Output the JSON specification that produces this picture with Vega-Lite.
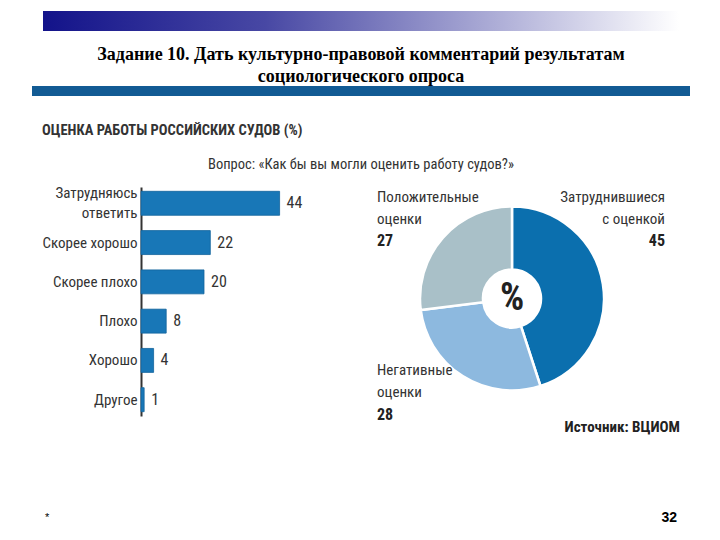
{
  "$schema": "https://vega.github.io/schema/vega-lite/v6.json",
  "background": "white",
  "padding": {"left": 32, "top": 11, "right": 0, "bottom": 0},
  "config": {"view": {"stroke": null}},
  "spacing": 0,
  "vconcat": [
    {
      "spacing": 10,
      "hconcat": [
        {"width": 1, "height": 20, "data": {"values": [{}]}, "mark": {"type": "text", "text": ""}, "encoding": {}},
        {
          "width": 636, "height": 20,
          "data": {"values": [{}]},
          "mark": {"type": "rect", "color": {"gradient": "linear", "x1": 0, "y1": 0, "x2": 1, "y2": 0, "stops": [{"offset": 0, "color": "#13138a"}, {"offset": 0.35, "color": "#4848a4"}, {"offset": 0.75, "color": "#b8b8dc"}, {"offset": 1, "color": "#ffffff"}]}},
          "encoding": {}
        }
      ]
    },
    {
      "width": 658, "height": 51,
      "data": {"values": [{}]},
      "mark": {"type": "text", "text": ["Задание 10. Дать культурно-правовой комментарий результатам", "социологического опроса"], "font": "Liberation Serif", "fontWeight": "bold", "fontSize": 18, "lineHeight": 22, "align": "center", "baseline": "middle", "dy": -1.5, "color": "#000000"},
      "encoding": {}
    },
    {
      "width": 658, "height": 10,
      "data": {"values": [{}]},
      "mark": {"type": "rect", "color": "#125b94"},
      "encoding": {}
    },
    {
      "width": 10, "height": 26,
      "data": {"values": [{}]},
      "mark": {"type": "text", "text": ""},
      "encoding": {}
    },
    {
      "spacing": 9,
      "hconcat": [
        {"width": 1, "height": 20, "data": {"values": [{}]}, "mark": {"type": "text", "text": ""}, "encoding": {}},
        {
          "title": {"text": "ОЦЕНКА РАБОТЫ РОССИЙСКИХ СУДОВ (%)", "anchor": "start", "font": "Liberation Sans Narrow, Roboto Condensed, DejaVu Sans Condensed, sans-serif", "fontSize": 14.5, "fontWeight": "bold", "color": "#333333", "offset": 19},
          "vconcat": [
            {
              "title": {"text": "Вопрос: «Как бы вы могли оценить работу судов?»", "anchor": "middle", "font": "Liberation Sans Narrow, Roboto Condensed, DejaVu Sans Condensed, sans-serif", "fontSize": 14.5, "fontWeight": "normal", "color": "#333333", "offset": 13},
              "spacing": 29,
              "hconcat": [
                {
                  "width": 189, "height": 229,
                  "data": {"values": [
                    {"ответ": "Затрудняюсь ответить", "процент": 44},
                    {"ответ": "Скорее хорошо", "процент": 22},
                    {"ответ": "Скорее плохо", "процент": 20},
                    {"ответ": "Плохо", "процент": 8},
                    {"ответ": "Хорошо", "процент": 4},
                    {"ответ": "Другое", "процент": 1}
                  ]},
                  "encoding": {
                    "y": {"field": "ответ", "type": "nominal", "sort": null, "scale": {"paddingInner": 0.39, "paddingOuter": 0.11},
                      "axis": {"title": null, "ticks": false, "grid": false, "domainColor": "#333333", "domainWidth": 2, "labelFont": "Liberation Sans Narrow, Roboto Condensed, DejaVu Sans Condensed, sans-serif", "labelFontSize": 15, "labelColor": "#333333", "labelPadding": 4, "labelLimit": 0, "labelLineHeight": 20,
                        "labelOffset": {"condition": {"test": "length(datum.label) > 15", "value": -10}, "value": 0},
                        "labelExpr": "length(datum.label) > 15 ? split(datum.label, ' ') : datum.label"}},
                    "x": {"field": "процент", "type": "quantitative", "scale": {"domain": [0, 60]}, "axis": null}
                  },
                  "layer": [
                    {"mark": {"type": "bar", "color": "#1877b7", "stroke": "#11639c", "strokeWidth": 0.8}},
                    {"mark": {"type": "text", "align": "left", "baseline": "middle", "dx": 7, "font": "Liberation Sans Narrow, Roboto Condensed, DejaVu Sans Condensed, sans-serif", "fontSize": 16, "color": "#333333"},
                     "encoding": {"text": {"field": "процент", "type": "quantitative"}}}
                  ]
                },
                {
                  "width": 306, "height": 223,
                  "data": {"values": [
                    {"оценка": "Затруднившиеся\nс оценкой", "процент": 45},
                    {"оценка": "Негативные\nоценки", "процент": 28},
                    {"оценка": "Положительные\nоценки", "процент": 27}
                  ]},
                  "layer": [
                    {
                      "mark": {"type": "arc", "outerRadius": 92, "innerRadius": 29, "stroke": "#ffffff", "strokeWidth": 2.5},
                      "encoding": {
                        "theta": {"field": "процент", "type": "quantitative", "stack": true},
                        "order": {"field": "процент", "sort": "descending"},
                        "color": {"field": "оценка", "type": "nominal", "scale": {"domain": ["Затруднившиеся\nс оценкой", "Негативные\nоценки", "Положительные\nоценки"], "range": ["#0b6fae", "#8db9df", "#a9c0c8"]}, "legend": null}
                      }
                    },
                    {
                      "transform": [{"filter": "indexof(datum['оценка'], 'Затруднившиеся') == 0"}],
                      "layer": [
                        {"mark": {"type": "text", "dx": 153, "dy": -102, "align": "right", "baseline": "middle", "lineBreak": "\n", "lineHeight": 22, "font": "Liberation Sans Narrow, Roboto Condensed, DejaVu Sans Condensed, sans-serif", "fontSize": 15, "color": "#333333"},
                         "encoding": {"text": {"field": "оценка", "type": "nominal"}}},
                        {"mark": {"type": "text", "dx": 153, "dy": -58, "align": "right", "baseline": "middle", "font": "Liberation Sans Narrow, Roboto Condensed, DejaVu Sans Condensed, sans-serif", "fontSize": 16, "fontWeight": "bold", "color": "#222222"},
                         "encoding": {"text": {"field": "процент", "type": "quantitative"}}}
                      ]
                    },
                    {
                      "transform": [{"filter": "indexof(datum['оценка'], 'Положительные') == 0"}],
                      "layer": [
                        {"mark": {"type": "text", "dx": -135, "dy": -102, "align": "left", "baseline": "middle", "lineBreak": "\n", "lineHeight": 22, "font": "Liberation Sans Narrow, Roboto Condensed, DejaVu Sans Condensed, sans-serif", "fontSize": 15, "color": "#333333"},
                         "encoding": {"text": {"field": "оценка", "type": "nominal"}}},
                        {"mark": {"type": "text", "dx": -135, "dy": -58, "align": "left", "baseline": "middle", "font": "Liberation Sans Narrow, Roboto Condensed, DejaVu Sans Condensed, sans-serif", "fontSize": 16, "fontWeight": "bold", "color": "#222222"},
                         "encoding": {"text": {"field": "процент", "type": "quantitative"}}}
                      ]
                    },
                    {
                      "transform": [{"filter": "indexof(datum['оценка'], 'Негативные') == 0"}],
                      "layer": [
                        {"mark": {"type": "text", "dx": -135, "dy": 71, "align": "left", "baseline": "middle", "lineBreak": "\n", "lineHeight": 22, "font": "Liberation Sans Narrow, Roboto Condensed, DejaVu Sans Condensed, sans-serif", "fontSize": 15, "color": "#333333"},
                         "encoding": {"text": {"field": "оценка", "type": "nominal"}}},
                        {"mark": {"type": "text", "dx": -135, "dy": 116, "align": "left", "baseline": "middle", "font": "Liberation Sans Narrow, Roboto Condensed, DejaVu Sans Condensed, sans-serif", "fontSize": 16, "fontWeight": "bold", "color": "#222222"},
                         "encoding": {"text": {"field": "процент", "type": "quantitative"}}}
                      ]
                    },
                    {
                      "data": {"values": [{}]},
                      "mark": {"type": "text", "text": "%", "font": "Liberation Sans Narrow, Roboto Condensed, DejaVu Sans Condensed, sans-serif", "fontSize": 38, "fontWeight": "bold", "color": "#222222", "align": "center", "baseline": "middle"},
                      "encoding": {}
                    },
                    {
                      "data": {"values": [{}]},
                      "mark": {"type": "text", "text": "Источник: ВЦИОМ", "dx": 168, "dy": 128, "font": "Liberation Sans Narrow, Roboto Condensed, DejaVu Sans Condensed, sans-serif", "fontSize": 15, "fontWeight": "bold", "color": "#222222", "align": "right", "baseline": "middle"},
                      "encoding": {}
                    }
                  ]
                }
              ]
            }
          ]
        }
      ]
    },
    {
      "width": 10, "height": 73,
      "data": {"values": [{}]},
      "mark": {"type": "text", "text": ""},
      "encoding": {}
    },
    {
      "spacing": 12,
      "hconcat": [
        {"width": 1, "height": 20, "data": {"values": [{}]}, "mark": {"type": "text", "text": ""}, "encoding": {}},
        {
          "width": 632, "height": 20,
          "layer": [
            {
              "data": {"values": [{"t": "*"}]},
              "mark": {"type": "text", "align": "left", "baseline": "middle", "font": "Liberation Sans", "fontSize": 11, "color": "#000000"},
              "encoding": {"x": {"field": "t", "type": "nominal", "scale": {"type": "point", "padding": 0, "domain": ["*", "32"]}, "axis": null}, "text": {"field": "t"}}
            },
            {
              "data": {"values": [{"t": "32"}]},
              "mark": {"type": "text", "align": "right", "baseline": "middle", "font": "Liberation Sans", "fontWeight": "bold", "fontSize": 14, "color": "#000000"},
              "encoding": {"x": {"field": "t", "type": "nominal", "scale": {"type": "point", "padding": 0, "domain": ["*", "32"]}, "axis": null}, "text": {"field": "t"}}
            }
          ]
        }
      ]
    }
  ]
}
